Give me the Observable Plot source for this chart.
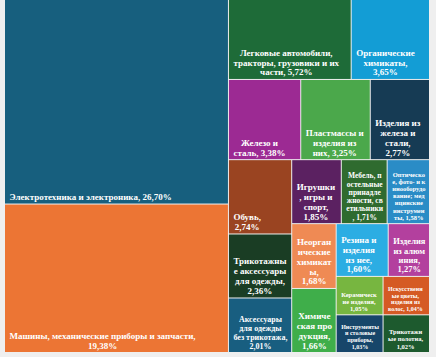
<!DOCTYPE html>
<html><head><meta charset="utf-8">
<script src="https://cdn.jsdelivr.net/npm/d3@7"></script>
<script src="https://cdn.jsdelivr.net/npm/@observablehq/plot@0.6"></script>
<style>
html,body{margin:0;padding:0;background:#efefef;width:436px;height:357px;overflow:hidden}
#chart{position:absolute;left:5px;top:0}
</style></head><body><div id="chart"></div>
<script>
const names = [
  "Электротехника и электроника",
  "Машины, механические приборы и запчасти",
  "Легковые автомобили, тракторы, грузовики и их части",
  "Органические химикаты",
  "Железо и сталь",
  "Пластмассы и изделия из них",
  "Изделия из железа и стали",
  "Обувь",
  "Игрушки, игры и спорт",
  "Мебель, постельные принадлежности, светильники",
  "Оптическое, фото- и кинооборудование; медицинские инструменты",
  "Трикотажные аксессуары для одежды",
  "Неорганические химикаты",
  "Резина и изделия из нее",
  "Изделия из алюминия",
  "Аксессуары для одежды без трикотажа",
  "Химическая продукция",
  "Керамические изделия",
  "Искусственные цветы, изделия из волос",
  "Инструменты и столовые приборы",
  "Трикотажные полотна"
];
const values = [26.70, 19.38, 5.72, 3.65, 3.38, 3.25, 2.77, 2.74, 1.85, 1.71, 1.58, 2.36, 1.68, 1.60, 1.27, 2.01, 1.66, 1.05, 1.04, 1.03, 1.02];
const colors = ["#175f7e","#ec7534","#1e6b38","#139dd5","#9c2a93","#4ba84b","#163b54","#9a4421","#5b2161","#2f6b2f","#2a8cc6","#1a3d24","#ef8a54","#2cade3","#b3409e","#185e80","#3fae4a","#77b640","#d55a24","#17466a","#1d5a2e"];
// nesting of the tiles (h = side by side, v = stacked)
const layout = {dir:"h", children:[
  {dir:"v", children:[0,1]},
  {dir:"v", children:[
    {dir:"h", children:[2,3]},
    {dir:"h", children:[4,5,6]},
    {dir:"h", children:[
      {dir:"v", children:[7,11,15]},
      {dir:"v", children:[
        {dir:"h", children:[8,9,10]},
        {dir:"h", children:[
          {dir:"v", children:[12,16]},
          {dir:"v", children:[
            {dir:"h", children:[13,14]},
            {dir:"h", children:[17,18]},
            {dir:"h", children:[19,20]}
          ]}
        ]}
      ]}
    ]}
  ]}
]};

const W = 424, H = 352;
function build(node){
  if (typeof node === "number") return {i:node, name:names[node], value:values[node], color:colors[node]};
  return {dir:node.dir, children:node.children.map(build)};
}
const root = d3.hierarchy(build(layout)).sum(d => d.value || 0);
d3.treemap().size([W, H]).paddingInner(1).round(false)
  .tile((n,x0,y0,x1,y1) => (n.data.dir === "h" ? d3.treemapDice : d3.treemapSlice)(n,x0,y0,x1,y1))(root);

const ctx = document.createElement("canvas").getContext("2d");
const FONT = '"Liberation Serif", "Times New Roman", serif';
function measure(t, fs){ ctx.font = `bold ${fs}px ${FONT}`; return ctx.measureText(t).width; }
function wrap(text, maxW, fs){
  const words = text.split(" ");
  const lines = [];
  let cur = "";
  for (const w of words){
    const cand = cur ? cur + " " + w : w;
    if (measure(cand, fs) <= maxW){ cur = cand; continue; }
    if (cur && measure(w, fs) <= maxW){ lines.push(cur); cur = w; continue; }
    let rest = cur ? cur + " " + w : w;
    let line = "";
    for (const ch of rest){
      if (measure(line + ch, fs) <= maxW || line === ""){ line += ch; }
      else { lines.push(line.trim()); line = ch; }
    }
    cur = line;
  }
  if (cur) lines.push(cur.trim());
  return lines;
}
const fmt = v => v.toFixed(2).replace(".", ",") + "%";
const pad = 4, LH = 1.1;
const cells = root.leaves().map(n => {
  const d = n.data;
  const label = d.name + ", " + fmt(d.value);
  const w = n.x1 - n.x0, h = n.y1 - n.y0;
  let fs = 9, lines;
  for (; fs >= 5.5; fs -= 0.5){
    lines = wrap(label, w - 2*pad, fs);
    if (lines.length * fs * LH <= h - 2*pad) break;
  }
  const bw = Math.max(...lines.map(l => measure(l, fs)));
  return {
    x0:n.x0, x1:n.x1, y0:n.y0, y1:n.y1, color:d.color,
    text: lines.join("\n"), fs,
    tx: n.x0 + pad + bw/2, ty: n.y1 - pad
  };
});

const chart = Plot.plot({
  width: W, height: H, margin: 0,
  x: {domain:[0, W], range:[0, W], axis:null},
  y: {domain:[0, H], range:[0, H], axis:null},
  color: {type:"identity"},
  style: {background:"transparent"},
  marks: [
    Plot.rect(cells, {x1:"x0", x2:"x1", y1:"y0", y2:"y1", fill:"color"}),
    Plot.text(cells, {x:"tx", y:"ty", text:"text", fill:"white", fontSize:d => d.fs, fontWeight:"bold",
      fontFamily:FONT, textAnchor:"middle", lineAnchor:"bottom", lineHeight:LH})
  ]
});
document.getElementById("chart").append(chart);
</script></body></html>
